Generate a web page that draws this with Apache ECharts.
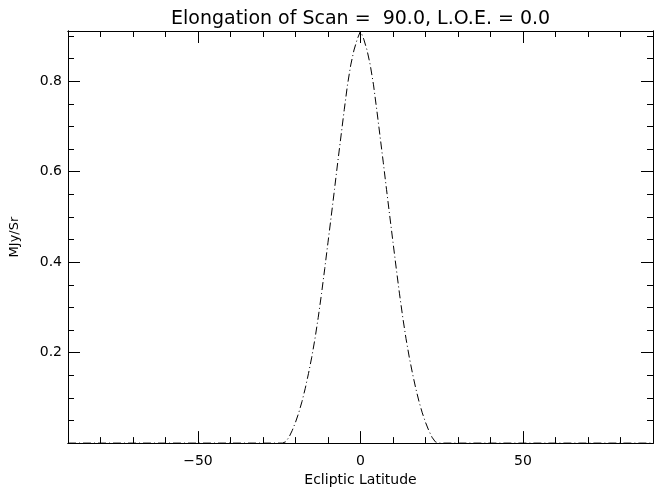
<!DOCTYPE html>
<html>
<head>
<meta charset="utf-8">
<title>Elongation of Scan</title>
<script src="https://cdn.jsdelivr.net/npm/echarts@6/dist/echarts.min.js"></script>
<style>
  html, body { margin: 0; padding: 0; background: #fff; }
  #chart { width: 667px; height: 492px; }
</style>
</head>
<body>
<div id="chart"></div>
<script>
// Ecliptic latitude (degrees) and surface brightness (MJy/Sr) along the scan
const latitude = [
  -90, -24, -23, -22, -21, -20, -19, -18, -17, -16, -15, -14, -13, -12, -11, -10,
  -9, -8, -7, -6, -5, -4, -3, -2, -1, 0,
  1, 2, 3, 4, 5, 6, 7, 8, 9, 10, 11, 12, 13, 14, 15, 16, 17, 18, 19, 20, 21, 22, 23, 24, 90
];
const brightness = [
  0.000, 0.000, 0.003, 0.013, 0.028, 0.046, 0.067, 0.092, 0.121, 0.154, 0.190, 0.231, 0.278, 0.330, 0.386, 0.444,
  0.502, 0.561, 0.621, 0.679, 0.737, 0.792, 0.836, 0.869, 0.893, 0.911,
  0.893, 0.869, 0.836, 0.792, 0.737, 0.679, 0.621, 0.561, 0.502, 0.444, 0.386, 0.330, 0.278, 0.231, 0.190, 0.154, 0.121, 0.092, 0.067, 0.046, 0.028, 0.013, 0.003, 0.000, 0.000
];

// Axis ranges and tick positions
const xRange = [-90, 90];
const xMinorStep = 10;
const xMajorTicks = [-50, 0, 50];
const yRange = [0, 0.911];
const yMinorStep = 0.05;
const yMajorTicks = [0.2, 0.4, 0.6, 0.8];

const titleText = 'Elongation of Scan =  90.0, L.O.E. = 0.0';
const xName = 'Ecliptic Latitude';
const yName = 'MJy/Sr';

const INK = '#000';
const FONT = 'DejaVu Sans';

function frameAxis(dim, position, major, withText) {
  const range = dim === 'x' ? xRange : yRange;
  const axis = {
    type: 'value',
    position: position,
    min: range[0],
    max: range[1],
    splitLine: { show: false },
    axisLine: { show: true, onZero: false, lineStyle: { color: INK, width: 1 } },
    axisTick: { show: true, inside: true, length: major ? 12 : 6, lineStyle: { color: INK, width: 1 } },
    axisLabel: { show: false }
  };
  if (major) {
    axis.axisTick.customValues = dim === 'x' ? xMajorTicks : yMajorTicks;
  } else {
    axis.interval = dim === 'x' ? xMinorStep : yMinorStep;
  }
  if (withText) {
    if (dim === 'x') {
      axis.axisLabel = {
        show: true,
        customValues: xMajorTicks,
        margin: 11,
        color: INK,
        fontFamily: FONT,
        fontSize: 14,
        formatter: v => (v < 0 ? '\u2212' + Math.abs(v) : String(v))
      };
      axis.name = xName;
      axis.nameLocation = 'middle';
      axis.nameGap = 27;
      axis.nameTextStyle = { color: INK, fontFamily: FONT, fontSize: 14 };
    } else {
      axis.axisLabel = {
        show: true,
        customValues: yMajorTicks,
        margin: 6,
        color: INK,
        fontFamily: FONT,
        fontSize: 14,
        formatter: v => v.toFixed(1)
      };
      axis.name = yName;
      axis.nameLocation = 'middle';
      axis.nameGap = 47;
      axis.nameTextStyle = { color: INK, fontFamily: FONT, fontSize: 13 };
    }
  }
  return axis;
}

const chart = echarts.init(document.getElementById('chart'), null, { renderer: 'canvas' });
chart.setOption({
  animation: false,
  backgroundColor: '#fff',
  title: {
    text: titleText,
    left: 166,
    top: 5,
    textStyle: { color: INK, fontFamily: FONT, fontSize: 19, fontWeight: 'normal' }
  },
  grid: { left: 67, right: 14, top: 31, bottom: 45, containLabel: false },
  xAxis: [
    frameAxis('x', 'bottom', false, false),
    frameAxis('x', 'bottom', true, true),
    frameAxis('x', 'top', false, false),
    frameAxis('x', 'top', true, false)
  ],
  yAxis: [
    frameAxis('y', 'left', false, false),
    frameAxis('y', 'left', true, true),
    frameAxis('y', 'right', false, false),
    frameAxis('y', 'right', true, false)
  ],
  series: [{
    type: 'line',
    xAxisIndex: 0,
    yAxisIndex: 0,
    data: latitude.map((lat, i) => [lat, brightness[i]]),
    showSymbol: false,
    symbol: 'none',
    lineStyle: { color: INK, width: 1, type: [8, 3, 1, 3] },
    z: 1
  }]
});
</script>
</body>
</html>
